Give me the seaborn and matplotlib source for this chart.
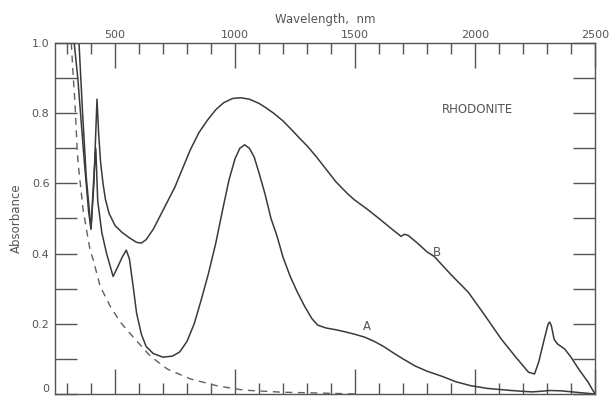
import numpy as np
import pandas as pd
import matplotlib
matplotlib.use("Agg")
import matplotlib.pyplot as plt
import seaborn as sns

# ---- data ----
a_wl = [330, 345, 370, 390, 400, 412, 420, 428, 445, 465, 492, 510, 530, 547, 560,
        575, 590, 610, 630, 660, 700, 740, 770, 800, 830, 860, 890, 920, 950, 975,
        1000, 1020, 1040, 1060, 1080, 1100, 1125, 1150, 1175, 1200, 1230, 1260,
        1290, 1320, 1345, 1380, 1420, 1460, 1500, 1540, 1580, 1620, 1660, 1700,
        1750, 1800, 1860, 1920, 1980, 2050, 2150, 2236, 2280, 2311, 2360, 2420, 2500]
a_abs = [1.0, 0.90, 0.68, 0.52, 0.47, 0.62, 0.70, 0.55, 0.46, 0.40, 0.335, 0.36,
         0.39, 0.41, 0.385, 0.31, 0.23, 0.17, 0.135, 0.115, 0.105, 0.108, 0.12,
         0.15, 0.20, 0.27, 0.345, 0.43, 0.53, 0.61, 0.67, 0.70, 0.71, 0.70, 0.675,
         0.63, 0.57, 0.50, 0.45, 0.39, 0.335, 0.29, 0.25, 0.215, 0.196, 0.188,
         0.183, 0.177, 0.170, 0.162, 0.15, 0.135, 0.117, 0.10, 0.08, 0.065, 0.051,
         0.035, 0.024, 0.016, 0.01, 0.006, 0.008, 0.01, 0.009, 0.005, 0.0]

b_wl = [350, 365, 380, 400, 412, 425, 432, 440, 450, 460, 475, 500, 530, 560, 590,
        610, 630, 660, 690, 720, 750, 780, 814, 850, 885, 920, 953, 990, 1023,
        1060, 1100, 1130, 1161, 1200, 1240, 1270, 1303, 1340, 1380, 1420, 1441,
        1470, 1496, 1550, 1600, 1650, 1692, 1705, 1721, 1760, 1800, 1830, 1900,
        1972, 2040, 2110, 2170, 2223, 2248, 2265, 2290, 2305, 2311, 2318, 2330,
        2345, 2374, 2400, 2432, 2470, 2500]
b_abs = [1.0, 0.80, 0.62, 0.47, 0.60, 0.84, 0.74, 0.66, 0.60, 0.555, 0.515, 0.48,
         0.46, 0.445, 0.432, 0.43, 0.44, 0.47, 0.51, 0.55, 0.59, 0.64, 0.696,
         0.745, 0.78, 0.81, 0.83, 0.842, 0.844, 0.84, 0.828, 0.815, 0.80, 0.778,
         0.75, 0.728, 0.705, 0.675, 0.64, 0.605, 0.59, 0.57, 0.554, 0.527, 0.50,
         0.472, 0.449, 0.455, 0.452, 0.43, 0.405, 0.392, 0.34, 0.29, 0.225, 0.156,
         0.105, 0.062, 0.057, 0.09, 0.16, 0.20, 0.205, 0.195, 0.155, 0.142, 0.128,
         0.105, 0.071, 0.035, 0.0]

d_wl = [318, 325, 334, 342, 346, 367, 396, 409, 438, 480, 522, 576, 647, 718, 814,
        927, 1036, 1200, 1400, 1500]
d_abs = [1.0, 0.915, 0.82, 0.70, 0.66, 0.525, 0.41, 0.383, 0.307, 0.25, 0.205,
         0.162, 0.108, 0.071, 0.043, 0.023, 0.011, 0.005, 0.002, 0.0]

x_major = [500, 1000, 1500, 2000, 2500]
x_major_labels = ["500", "1000", "1500", "2000", "2500"]
y_major = [0.0, 0.2, 0.4, 0.6, 0.8, 1.0]
y_major_labels = ["0", "0.2", "0.4", "0.6", "0.8", "1.0"]

sns.set_style("ticks")
plt.rcParams["font.family"] = ["DejaVu Sans"]

fig = plt.figure(figsize=(6.14, 3.98), dpi=100)
ax = fig.add_axes([55 / 614, 4 / 398, 540 / 614, 351 / 398])

ink = "#3a3a3a"
txt = "#555555"

dfA = pd.DataFrame({"wl": a_wl, "abs": a_abs})
dfB = pd.DataFrame({"wl": b_wl, "abs": b_abs})
dfD = pd.DataFrame({"wl": d_wl, "abs": d_abs})
sns.lineplot(data=dfA, x="wl", y="abs", ax=ax, color=ink, lw=1.1, sort=False)
sns.lineplot(data=dfB, x="wl", y="abs", ax=ax, color=ink, lw=1.1, sort=False)
sns.lineplot(data=dfD, x="wl", y="abs", ax=ax, color="#606060", lw=1.0,
             sort=False, linestyle=(0, (5, 4)))

ax.set_xlim(250, 2500)
ax.set_ylim(0, 1.0)

for s in ax.spines.values():
    s.set_color("#555555")
    s.set_linewidth(1.0)

ax.xaxis.set_ticks_position("both")
ax.xaxis.set_label_position("top")
ax.set_xticks(x_major)
ax.set_xticklabels(x_major_labels)
ax.set_xticks(np.arange(300, 2500, 100), minor=True)
ax.tick_params(axis="x", which="major", direction="in", length=18, width=1.0,
               color="#555555", top=True, bottom=True, labeltop=True,
               labelbottom=False, labelsize=8, labelcolor=txt, pad=2)
ax.tick_params(axis="x", which="minor", direction="in", length=8, width=1.0,
               color="#555555", top=True, bottom=True)

ax.yaxis.set_ticks_position("both")
ax.set_yticks(y_major)
ax.set_yticklabels(y_major_labels)
ax.set_yticks(np.arange(0.1, 1.0, 0.2), minor=True)
ax.tick_params(axis="y", which="both", direction="in", length=16, width=1.0,
               color="#555555", left=True, right=True, labelleft=True,
               labelright=False, labelsize=8, labelcolor=txt, pad=4)
ax.get_yticklabels()[0].set_va("bottom")

ax.set_xlabel("Wavelength,  nm", fontsize=8.5, color=txt, labelpad=5)
ax.set_ylabel("Absorbance", fontsize=8.5, color=txt, labelpad=6)

ax.text(2012, 0.81, "RHODONITE", fontsize=8.5, color=txt, ha="center", va="center")
ax.text(1842, 0.403, "B", fontsize=8.5, color=txt, ha="center", va="center")
ax.text(1550, 0.193, "A", fontsize=8.5, color=txt, ha="center", va="center")

fig.savefig("out.png", dpi=100, facecolor="white")
